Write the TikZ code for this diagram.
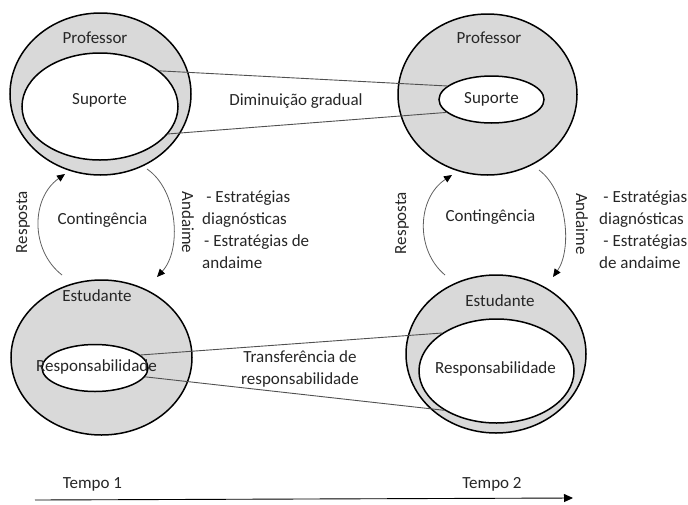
\documentclass[tikz,border=0pt]{standalone}
\usepackage{fontspec}
\setmainfont{Carlito}
\usetikzlibrary{shapes.geometric,arrows.meta}
\definecolor{shade}{HTML}{D9D9D9}
\definecolor{txt}{HTML}{262626}
\definecolor{linkc}{HTML}{505050}
\definecolor{arcc}{HTML}{606060}
\begin{document}
\begin{tikzpicture}[x=1pt,y=-1pt,
  lbl/.style={font=\fontsize{17}{22}\selectfont, text=txt, inner sep=0pt},
  outerell/.style={ellipse, draw=black, line width=1.5pt, fill=shade, inner sep=0pt},
  innerell/.style={ellipse, draw=black, line width=1.5pt, fill=white, inner sep=0pt},
  link/.style={draw=linkc, line width=0.9pt},
  cyc/.style={draw=arcc, line width=0.8pt, -{Triangle[length=8pt,width=7pt,color=black]}},
  timeline/.style={draw=black, line width=0.9pt, -{Triangle[length=9pt,width=8pt,color=black]}}
]
\useasboundingbox (0,0) rectangle (688,504);

% outer ellipses
\node[outerell, minimum width=181pt, minimum height=162pt] (prof1) at (100.5,94) {};
\node[outerell, minimum width=179pt, minimum height=161pt] (prof2) at (487.5,94.5) {};
\node[outerell, minimum width=181pt, minimum height=155pt] (est1) at (101.5,357.5) {};
\node[outerell, minimum width=180pt, minimum height=158pt] (est2) at (496,354) {};

% inner ellipses
\node[innerell, minimum width=156pt, minimum height=107pt] (sup1) at (100,106.5) {};
\node[innerell, minimum width=105pt, minimum height=47pt] (sup2) at (491.5,99.5) {};
\node[innerell, minimum width=106pt, minimum height=47pt] (resp1) at (95,368) {};
\node[innerell, minimum width=155pt, minimum height=104pt] (resp2) at (496.5,371) {};

% connectors between inner ellipses
\draw[link] (sup1.31.5) -- (sup2.163.8);
\draw[link] (sup1.-22.3) -- (sup2.196.2);
\draw[link] (resp1.16) -- (resp2.145);
\draw[link] (resp1.-10.5) -- (resp2.217);

% labels
\node[lbl] (tprof1) at (95,38) {Professor};
\node[lbl] (tprof2) at (489,38) {Professor};
\node[lbl] (tsup1) at (99.5,100) {Suporte};
\node[lbl] (tsup2) at (491.5,99.5) {Suporte};
\node[lbl] (tdim) at (296,101) {Diminuição gradual};
\node[lbl] (test1) at (97,296) {Estudante};
\node[lbl] (test2) at (500,301) {Estudante};
\node[lbl] (tresp1) at (96.5,367) {Responsabilidade};
\node[lbl] (tresp2) at (495.5,369) {Responsabilidade};
\node[lbl, align=center] (ttrans) at (300,368.5) {Transferência de\\responsabilidade};

% contingency cycles
\coordinate (r1s) at (62,275);  \coordinate (r1e) at (65,174);
\coordinate (a1s) at (147,169); \coordinate (a1e) at (157,277);
\coordinate (r2s) at (445,275); \coordinate (r2e) at (452,175);
\coordinate (a2s) at (539,170); \coordinate (a2e) at (553,277);
\draw[cyc] (r1s) .. controls (30,250) and (31,198) .. (r1e);
\draw[cyc] (a1s) .. controls (178,190) and (182,250) .. (a1e);
\draw[cyc] (r2s) .. controls (415,250) and (417,198) .. (r2e);
\draw[cyc] (a2s) .. controls (568,192) and (572,250) .. (a2e);

\node[lbl, rotate=90] (tr1) at (23,222) {Resposta};
\node[lbl, rotate=90] (tr2) at (402,223) {Resposta};
\node[lbl, rotate=-90] (ta1) at (188,222.5) {Andaime};
\node[lbl, rotate=-90] (ta2) at (582,224) {Andaime};
\node[lbl] (tc1) at (102.5,220) {Contingência};
\node[lbl] (tc2) at (490.5,217) {Contingência};

\node[lbl, align=left, anchor=west] (ts1) at (202,230)
  {\hspace*{0.25em}- Estratégias\\diagnósticas\\\hspace*{0.12em}- Estratégias de\\andaime};
\node[lbl, align=left, anchor=west] (ts2) at (599,230)
  {\hspace*{0.25em}- Estratégias\\diagnósticas\\\hspace*{0.25em}- Estratégias\\de andaime};

% timeline
\coordinate (tl0) at (35,500);
\coordinate (tl1) at (573,498);
\draw[timeline] (tl0) -- (tl1);
\node[lbl] (tt1) at (92.5,484) {Tempo 1};
\node[lbl] (tt2) at (492,484) {Tempo 2};
\end{tikzpicture}
\end{document}
